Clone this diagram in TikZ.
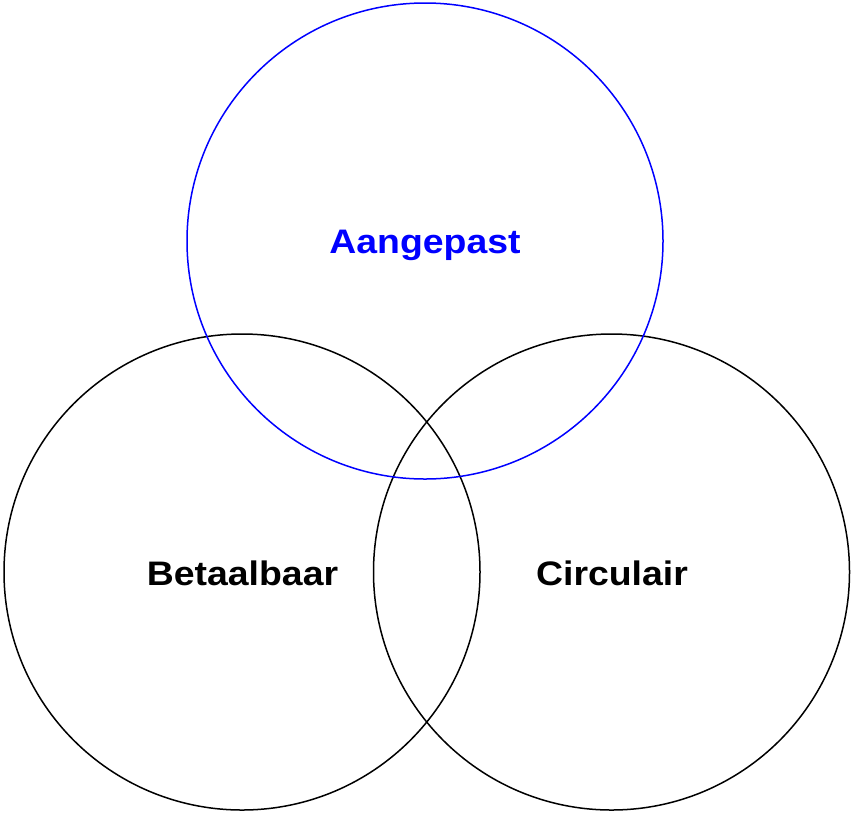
\documentclass[tikz,border=0pt]{standalone}
\usepackage{fontspec}
\setmainfont{Liberation Sans}
\newfontfamily\labfont[FakeStretch=1.1]{Liberation Sans Bold}
\begin{document}
\begin{tikzpicture}[x=1pt,y=-1pt,
  ring/.style={draw=black,line width=1.5pt},
  lab/.style={font=\labfont\fontsize{34}{40}\selectfont,anchor=base,inner sep=0pt}]
\useasboundingbox (0,0) rectangle (851,812);
\draw[ring] (242,572) circle (238);
\draw[ring] (611.5,572) circle (238);
\draw[ring,draw={rgb,255:red,0;green,0;blue,255}] (425,241) circle (238);
\node[lab,text={rgb,255:red,0;green,0;blue,255}] (a) at (425,253) {Aangepast};
\node[lab] (b) at (242.5,585.5) {Betaalbaar};
\node[lab] (c) at (612,585.5) {Circulair};
\end{tikzpicture}
\end{document}
